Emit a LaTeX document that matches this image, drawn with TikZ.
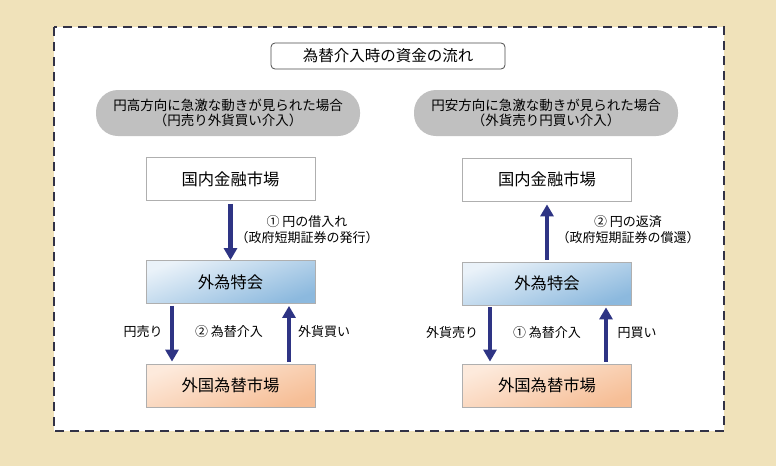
\documentclass[tikz,border=0pt]{standalone}
\usepackage{fontspec}
\setmainfont{Noto Sans CJK JP}
\usetikzlibrary{arrows.meta}
\definecolor{papercream}{RGB}{240, 226, 186}
\definecolor{framenavy}{RGB}{50, 50, 70}
\definecolor{flownavy}{RGB}{46, 52, 132}
\definecolor{pillgrey}{RGB}{192, 192, 192}
\definecolor{boxgrey}{RGB}{175, 175, 175}
\definecolor{tokulight}{RGB}{234, 242, 249}
\definecolor{tokudark}{RGB}{140, 185, 222}
\definecolor{fxlight}{RGB}{253, 234, 220}
\definecolor{fxdark}{RGB}{246, 190, 150}
\tikzstyle{titlebox} = [
  draw=black!70,
  line width=0.8pt,
  rounded corners=4pt,
  fill=white,
  minimum width=234pt,
  minimum height=26pt,
  inner sep=0pt,
  font=\fontsize{15.5pt}{17pt}\selectfont,
]
\tikzstyle{casepill} = [
  fill=pillgrey,
  rounded corners=22pt,
  minimum width=264pt,
  minimum height=46pt,
  align=center,
  inner sep=0pt,
  font=\fontsize{13.5pt}{15.5pt}\selectfont,
]
\tikzstyle{market} = [
  draw=boxgrey,
  line width=0.8pt,
  minimum width=169pt,
  minimum height=43pt,
  inner sep=0pt,
  font=\fontsize{16.3pt}{18pt}\selectfont,
]
\tikzstyle{flow} = [
  draw=flownavy,
  line width=4.5pt,
  -{Triangle[width=13pt,length=12pt]},
]
\tikzstyle{flowtext} = [
  align=center,
  inner sep=0pt,
  font=\fontsize{13pt}{16pt}\selectfont,
]

\begin{document}
\begin{tikzpicture}[x=1pt,y=-1pt]
            % Background and dashed frame
            \useasboundingbox[fill=papercream] (0,0) rectangle (776,466);
            \draw[framenavy, fill=white, line width=2pt, dash pattern=on 9pt off 6pt]
              (54,27) rectangle (724,431);

            % Title
            \node[titlebox] (title) at (388,56) {為替介入時の資金の流れ};

            % Cases
            \node[casepill] (caseL) at (228,113) {円高方向に急激な動きが見られた場合\\（円売り外貨買い介入）};
            \node[casepill] (caseR) at (546,113) {円安方向に急激な動きが見られた場合\\（外貨売り円買い介入）};

            % Left side: yen selling
            \node[market, fill=white] (domL) at (230.5,179) {国内金融市場};
            \node[market, top color=tokulight, bottom color=tokudark, shading angle=20] (tokuL) at (230.5,282) {外為特会};
            \node[market, top color=fxlight, bottom color=fxdark, shading angle=20] (fxL) at (230.5,385.5) {外国為替市場};

            \draw[flow, shorten <=3pt] (domL.south) -- (tokuL.north);
            \draw[flow, shorten <=2pt, shorten >=2pt] ([xshift=-58.5pt]tokuL.south) -- ([xshift=-58.5pt]fxL.north);
            \draw[flow, shorten <=2pt, shorten >=2pt] ([xshift=58.5pt]fxL.north) -- ([xshift=58.5pt]tokuL.south);

            \node[flowtext] (borrowL) at (307,230) {① 円の借入れ\\（政府短期証券の発行）};
            \node[flowtext] (sellL) at (143,332) {円売り};
            \node[flowtext] (stepL) at (229,332) {② 為替介入};
            \node[flowtext] (buyL) at (324,332) {外貨買い};

            % Right side: yen buying
            \node[market, fill=white] (domR) at (547,179.5) {国内金融市場};
            \node[market, top color=tokulight, bottom color=tokudark, shading angle=20] (tokuR) at (547,283.5) {外為特会};
            \node[market, top color=fxlight, bottom color=fxdark, shading angle=20] (fxR) at (547,385.5) {外国為替市場};

            \draw[flow, shorten <=2pt, shorten >=3pt] (tokuR.north) -- (domR.south);
            \draw[flow, shorten <=2pt, shorten >=2pt] ([xshift=-57pt]tokuR.south) -- ([xshift=-57pt]fxR.north);
            \draw[flow, shorten <=2pt, shorten >=2pt] ([xshift=59pt]fxR.north) -- ([xshift=59pt]tokuR.south);

            \node[flowtext] (repayR) at (628,230) {② 円の返済\\（政府短期証券の償還）};
            \node[flowtext] (sellR) at (452,333) {外貨売り};
            \node[flowtext] (stepR) at (547,333) {① 為替介入};
            \node[flowtext] (buyR) at (637,333) {円買い};
          \end{tikzpicture}
\end{document}
